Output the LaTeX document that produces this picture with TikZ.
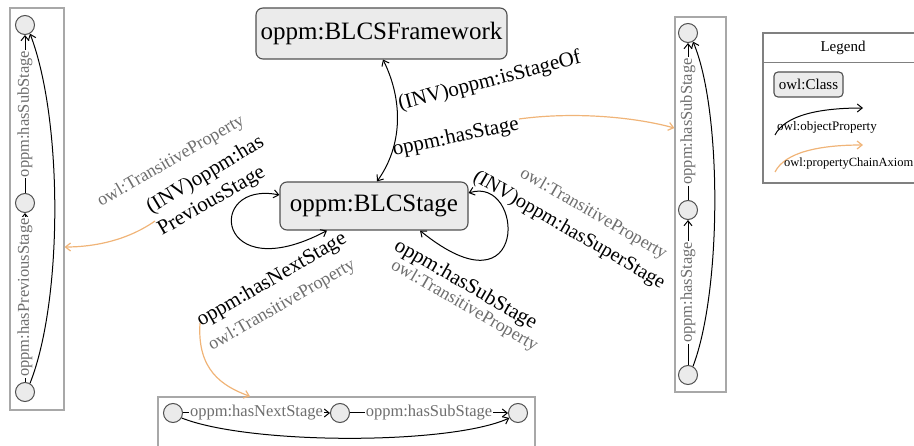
\documentclass[tikz,border=0pt]{standalone}
\usepackage{fontspec}
\setmainfont{Liberation Serif}
\usetikzlibrary{arrows.meta}
\definecolor{nodefill}{HTML}{EBEBEB}
\definecolor{nodedraw}{HTML}{505050}
\definecolor{framegray}{HTML}{A8A8A8}
\definecolor{leggray}{HTML}{808080}
\definecolor{lblgray}{HTML}{6E6E6E}
\definecolor{chain}{HTML}{F0B478}
\newcommand\fsz[1]{\fontsize{#1}{#1}\selectfont}
\begin{document}
\begin{tikzpicture}[x=1pt,y=-1pt,
  >={Straight Barb[length=5pt,width=8pt]},
  cls/.style={draw=nodedraw, fill=nodefill, rounded corners=7pt, line width=1.1pt, inner sep=0pt},
  pnt/.style={circle, draw=nodedraw, fill=nodefill, minimum size=19pt, inner sep=0pt, line width=1pt},
  frm/.style={draw=framegray, line width=1.2pt, inner sep=0pt},
  prop/.style={draw=black, line width=1pt},
  chainax/.style={draw=chain, line width=1.2pt, ->},
  blab/.style={font=\fsz{21}, inner sep=0pt, anchor=base west},
  glab/.style={font=\fsz{18}, text=lblgray, inner sep=0pt, anchor=base west},
  ilab/.style={font=\fsz{16.5}, text=lblgray, fill=white, inner sep=1pt, sloped},
  llab/.style={inner sep=0pt, anchor=base west}
]
\useasboundingbox (0,0) rectangle (914,446);
\begin{scope}
\clip (0,0) rectangle (914,446);

% main classes
\node[cls, minimum width=251pt, minimum height=51pt, font=\fsz{25}] (fw) at (381.5,33.5) {oppm:BLCSFramework};
\node[cls, minimum width=188pt, minimum height=48pt, font=\fsz{25}] (st) at (374,206) {oppm:BLCStage};

% frames
\node[frm, minimum width=54pt, minimum height=402pt] (lbox) at (37,209) {};
\node[frm, minimum width=51pt, minimum height=375pt] (rbox) at (700.5,204.5) {};
\node[frm, minimum width=377pt, minimum height=55pt] (bbox) at (346.5,424.5) {};
\node[draw=leggray, line width=1.5pt, inner sep=0pt, minimum width=153pt, minimum height=150pt] (leg) at (839.5,108) {};

% framework <-> stage
\draw[prop,<->] ([xshift=1.5pt]fw.south) .. controls (403,100) and (403,145) .. ([xshift=3pt]st.north);
\node[blab, rotate=14.5] (linv) at (400,110) {(INV)oppm:isStageOf};
\node[blab, rotate=12] (lhs) at (394,156) {oppm:hasStage};

% self loops
\draw[prop,<->] ([yshift=11pt]st.west) .. controls (205,180) and (215,290) .. ([xshift=-47pt]st.south);
\draw[prop,<->] ([yshift=13pt]st.east) .. controls (525,175) and (530,320) .. ([xshift=46pt]st.south);

% left labels
\node[glab, rotate=30] (lt1) at (101,207) {owl:TransitiveProperty};
\node[blab, rotate=31] (lp1) at (151,214) {(INV)oppm:has};
\node[blab, rotate=30] (lp2) at (162,236) {PreviousStage};
% bottom-left labels
\node[blab, rotate=30] (ln1) at (201,327) {oppm:hasNextStage};
\node[glab, rotate=30] (lt2) at (212,351) {owl:TransitiveProperty};
% right labels
\node[glab, rotate=-30] (lt3) at (519,176) {owl:TransitiveProperty};
\node[blab, rotate=-30, font=\fsz{20}] (lsup) at (472,180) {(INV)oppm:hasSuperStage};
\node[blab, rotate=-30] (lsub) at (393,249) {oppm:hasSubStage};
\node[glab, rotate=-30] (lt4) at (390,268) {owl:TransitiveProperty};

% chain axioms
\coordinate (c1) at (519,119);
\draw[chainax] (c1) .. controls (570,112) and (630,116) .. ([yshift=76.5pt]rbox.west);
\coordinate (c2) at (155,221);
\draw[chainax] (c2) .. controls (128,240) and (95,247) .. ([yshift=-38pt]lbox.east);
\coordinate (c3) at (200,323);
\draw[chainax] (c3) .. controls (197,370) and (222,386) .. ([xshift=-96.5pt]bbox.north);

% left box content
\node[pnt] (l1) at (25,392) {};
\node[pnt] (l2) at (25,203) {};
\node[pnt] (l3) at (25,25) {};
\draw[prop,->] (l1) -- node[ilab] {oppm:hasPreviousStage} (l2);
\draw[prop,->] (l2) -- node[ilab] {oppm:hasSubStage} (l3);
\draw[prop,->] (l1.60) .. controls (63,300) and (63,120) .. (l3.-60);

% right box content
\node[pnt] (r1) at (688,375) {};
\node[pnt] (r2) at (688,210) {};
\node[pnt] (r3) at (688,33) {};
\draw[prop,->] (r1) -- node[ilab] {oppm:hasStage} (r2);
\draw[prop,->] (r2) -- node[ilab] {oppm:hasSubStage} (r3);
\draw[prop,->] (r1.60) .. controls (722,290) and (722,110) .. (r3.-60);

% bottom box content
\node[pnt] (b1) at (173,413) {};
\node[pnt] (b2) at (340,413) {};
\node[pnt] (b3) at (518,413) {};
\draw[prop,->] (b1) -- node[ilab] {oppm:hasNextStage} (b2);
\draw[prop,->] (b2) -- node[ilab] {oppm:hasSubStage} (b3);
\draw[prop,->] (b1.-30) .. controls (250,445) and (450,445) .. (b3.-150);

% legend
\draw[draw=leggray, line width=1.2pt] ([yshift=-30pt]leg.north west) -- ([yshift=-30pt]leg.north east);
\node[font=\fsz{15}, inner sep=0pt] (legt) at (843,48) {Legend};
\node[cls, font=\fsz{15}, minimum width=69pt, minimum height=25pt, rounded corners=4pt] (lcls) at (808.5,84.5) {owl:Class};
\coordinate (lo1) at (775,135);
\coordinate (lo2) at (863,108);
\draw[prop,->] (lo1) .. controls (785,115) and (820,108) .. (lo2);
\node[llab, font=\fsz{13}] (lot) at (777,131) {owl:objectProperty};
\coordinate (lc1) at (775,172);
\coordinate (lc2) at (863,145);
\draw[chainax] (lc1) .. controls (785,152) and (820,145) .. (lc2);
\node[llab, font=\fsz{12.5}] (lct) at (784,167) {owl:propertyChainAxiom};
\end{scope}
\end{tikzpicture}
\end{document}
